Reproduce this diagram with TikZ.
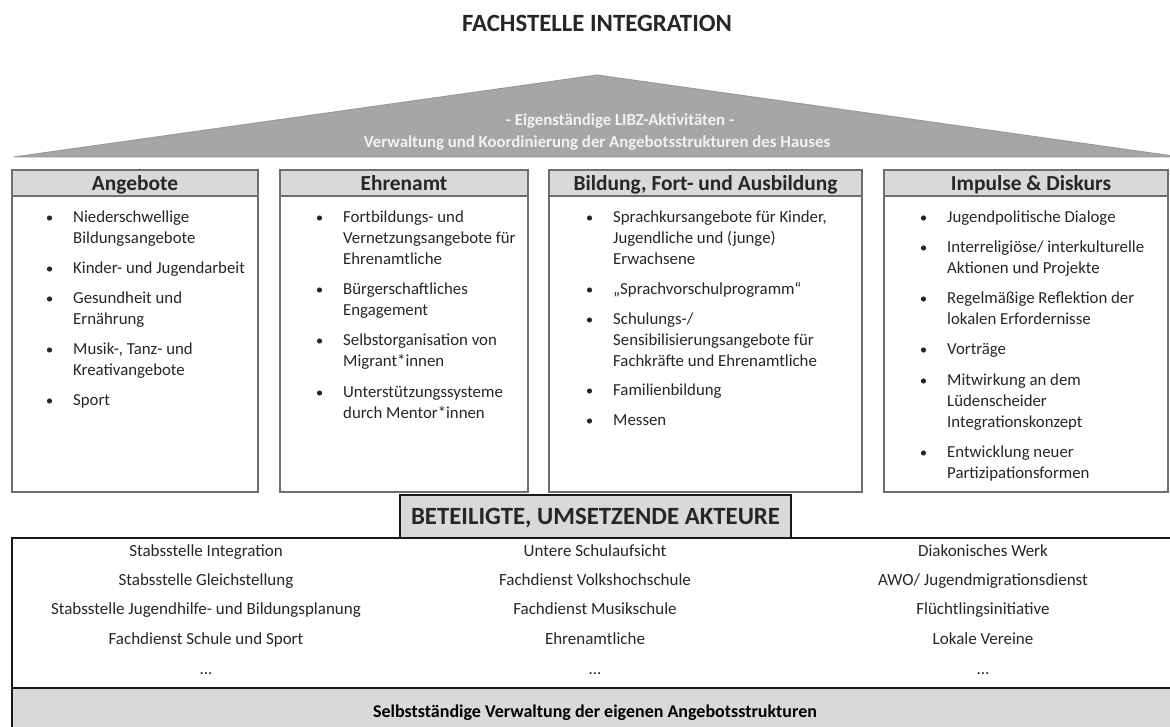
\documentclass[tikz,border=0pt]{standalone}
\usepackage{fontspec}
\setmainfont{Carlito}
\definecolor{roof}{HTML}{A6A6A6}
\definecolor{roofedge}{HTML}{9A9A9A}
\definecolor{lgray}{HTML}{D9D9D9}
\definecolor{txt}{HTML}{262626}
\definecolor{edge}{HTML}{6E6E6E}
\newcommand\itm[4]{%
  \node[body,name=#1] at (#2,#3-9.7) {\strut #4};
  \fill[txt] (#2-23.5,#3+1) circle (2.6);}
\begin{document}
\begin{tikzpicture}[x=1pt,y=-1pt,
  body/.style={font=\fontsize{16.8}{21}\selectfont, text=txt, inner sep=0, anchor=north west, align=left},
  head/.style={font=\fontsize{21.4}{24}\selectfont\bfseries, text=txt, inner sep=0, anchor=base},
  bigtitle/.style={font=\fontsize{24.8}{28}\selectfont\bfseries, text=txt, inner sep=0, anchor=base},
  rooftext/.style={font=\fontsize{16.8}{20}\selectfont\bfseries, text=white!95!black, inner sep=0, anchor=base},
  actor/.style={font=\fontsize{17}{20}\selectfont, text=txt, inner sep=0, anchor=base},
  colbox/.style={draw=edge, line width=1.3},
  heavy/.style={draw=black!90, line width=2.4}]
\useasboundingbox (0,0) rectangle (1170,727);
\clip (0,0) rectangle (1170,727);
\fill[white] (0,0) rectangle (1170,727);

% title
\node[bigtitle] (title) at (597,32) {FACHSTELLE INTEGRATION};

% roof
\filldraw[fill=roof, draw=roofedge, line width=1] (14,157) -- (597,75) -- (1180,157) -- cycle;
\node[rooftext] (roof1) at (620,126) {- Eigenständige LIBZ-Aktivitäten -};
\node[rooftext] (roof2) at (597,147.5) {Verwaltung und Koordinierung der Angebotsstrukturen des Hauses};

% column boxes
\foreach \a/\b in {12/258, 280/528, 549/862, 884/1168}{
  \draw[colbox] (\a,196) rectangle (\b,492);
  \filldraw[colbox, fill=lgray] (\a,170) rectangle (\b,196);
}
\node[head] (h1) at (135,191) {Angebote};
\node[head] (h2) at (404,191) {Ehrenamt};
\node[head] (h3) at (705.5,191) {Bildung, Fort- und Ausbildung};
\node[head] (h4) at (1031,191) {Impulse \& Diskurs};

% column 1
\itm{a1}{73}{217}{Niederschwellige\\Bildungsangebote}
\itm{a2}{73}{268}{Kinder- und Jugendarbeit}
\itm{a3}{73}{298}{Gesundheit und\\Ernährung}
\itm{a4}{73}{349}{Musik-, Tanz- und\\Kreativangebote}
\itm{a5}{73}{400}{Sport}
% column 2
\itm{b1}{343}{217}{Fortbildungs- und\\Vernetzungsangebote für\\Ehrenamtliche}
\itm{b2}{343}{289}{Bürgerschaftliches\\Engagement}
\itm{b3}{343}{340}{Selbstorganisation von\\Migrant*innen}
\itm{b4}{343}{392}{Unterstützungssysteme\\durch Mentor*innen}
% column 3
\itm{c1}{613}{217}{Sprachkursangebote für Kinder,\\Jugendliche und (junge)\\Erwachsene}
\itm{c2}{613}{289}{„Sprachvorschulprogramm“}
\itm{c3}{613}{319}{Schulungs-/\\Sensibilisierungsangebote für\\Fachkräfte und Ehrenamtliche}
\itm{c4}{613}{390}{Familienbildung}
\itm{c5}{613}{420}{Messen}
% column 4
\itm{d1}{947}{217}{Jugendpolitische Dialoge}
\itm{d2}{947}{247}{Interreligiöse/ interkulturelle\\Aktionen und Projekte}
\itm{d3}{947}{298}{Regelmäßige Reflektion der\\lokalen Erfordernisse}
\itm{d4}{947}{349}{Vorträge}
\itm{d5}{947}{380}{Mitwirkung an dem\\Lüdenscheider\\Integrationskonzept}
\itm{d6}{947}{452}{Entwicklung neuer\\Partizipationsformen}

% actors area
\fill[lgray] (12,688) rectangle (1180,730);
\draw[heavy] (1180,538) -- (12,538) -- (12,730);
\draw[draw=black!90, line width=2] (12,688) -- (1180,688);

\node[actor] (l1) at (206,556) {Stabsstelle Integration};
\node[actor] (l2) at (206,585) {Stabsstelle Gleichstellung};
\node[actor] (l3) at (206,614) {Stabsstelle Jugendhilfe- und Bildungsplanung};
\node[actor] (l4) at (206,644) {Fachdienst Schule und Sport};
\node[actor] (l5) at (206,674) {...};
\node[actor] (m1) at (595,556) {Untere Schulaufsicht};
\node[actor] (m2) at (595,585) {Fachdienst Volkshochschule};
\node[actor] (m3) at (595,614) {Fachdienst Musikschule};
\node[actor] (m4) at (595,644) {Ehrenamtliche};
\node[actor] (m5) at (595,674) {...};
\node[actor] (r1) at (983,556) {Diakonisches Werk};
\node[actor] (r2) at (983,585) {AWO/ Jugendmigrationsdienst};
\node[actor] (r3) at (983,614) {Flüchtlingsinitiative};
\node[actor] (r4) at (983,644) {Lokale Vereine};
\node[actor] (r5) at (983,674) {...};

\node[font=\fontsize{18}{20}\selectfont\bfseries, text=black, inner sep=0, anchor=base] (band) at (595,717) {Selbstständige Verwaltung der eigenen Angebotsstrukturen};

% akteure title box
\filldraw[heavy, fill=lgray] (400,495) rectangle (791,538);
\node[bigtitle] (akt) at (595.5,524.5) {BETEILIGTE, UMSETZENDE AKTEURE};
\end{tikzpicture}
\end{document}
